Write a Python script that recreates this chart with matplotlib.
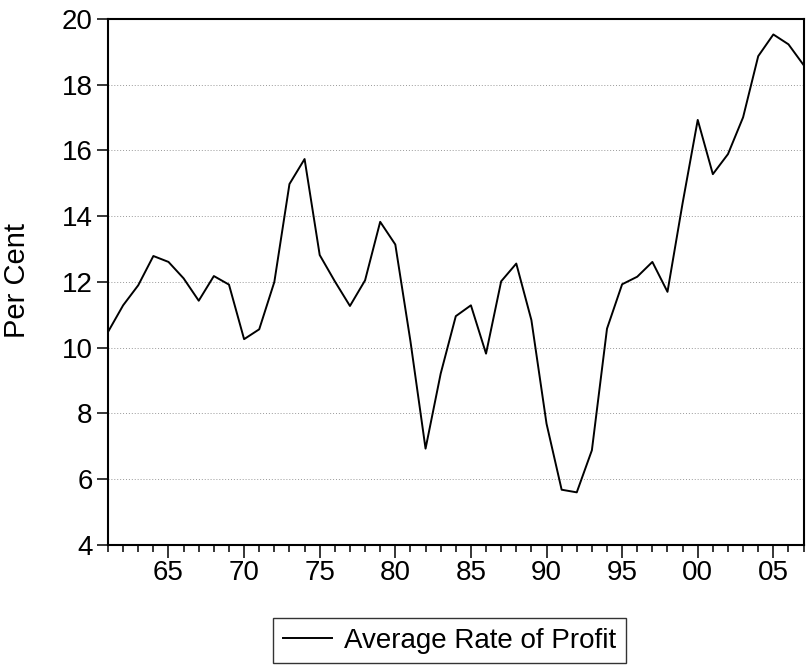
import numpy as np
import matplotlib
matplotlib.use("Agg")
import matplotlib.pyplot as plt
from matplotlib.ticker import MultipleLocator, FixedLocator

plt.rcParams['font.family'] = ['Liberation Sans', 'DejaVu Sans']

# ── data ──────────────────────────────────────────────────────
years = np.arange(1961, 2008)
profit_rate = [
    10.48, 11.29, 11.90, 12.79, 12.61, 12.11, 11.43, 12.18, 11.92, 10.26,
    10.56, 12.00, 14.98, 15.74, 12.82, 12.02, 11.27, 12.05, 13.83, 13.14,
    10.20, 6.93, 9.21, 10.96, 11.29, 9.82, 12.02, 12.56, 10.84, 7.69,
    5.68, 5.60, 6.88, 10.58, 11.93, 12.16, 12.61, 11.70, 14.40, 16.93,
    15.28, 15.89, 17.01, 18.87, 19.53, 19.23, 18.60,
]
major_years = [1965, 1970, 1975, 1980, 1985, 1990, 1995, 2000, 2005]
major_labels = ["65", "70", "75", "80", "85", "90", "95", "00", "05"]

# ── figure ────────────────────────────────────────────────────
fig = plt.figure(figsize=(8.06, 6.67), dpi=100)
ax = fig.add_axes([0.134, 0.183, 0.863, 0.7885])

ax.plot(years, profit_rate, color="black", linewidth=1.4,
        label="Average Rate of Profit")

ax.set_xlim(1961, 2007)
ax.set_ylim(4, 20)
ax.yaxis.set_major_locator(MultipleLocator(2))
ax.xaxis.set_major_locator(FixedLocator(major_years))
ax.set_xticklabels(major_labels)
ax.xaxis.set_minor_locator(MultipleLocator(1))

ax.grid(axis="y", linestyle=(0, (1, 2)), color="#999999", linewidth=0.7)
ax.set_axisbelow(True)

# tick lengths are in points (1 pt = 1.39 px here)
ax.tick_params(axis="both", which="major", direction="out",
               width=1.1, color="black")
ax.tick_params(axis="y", which="major", length=8, labelsize=20, pad=3)
ax.tick_params(axis="x", which="major", length=9.5, labelsize=20, pad=1)
ax.tick_params(axis="x", which="minor", length=4.8, width=1.1)
for sp in ax.spines.values():
    sp.set_linewidth(1.5)

fig.text(0.021, 0.579, "Per Cent", rotation=90, fontsize=21,
         ha="center", va="center")

ax.legend(loc="upper center", bbox_to_anchor=(0.491, -0.139),
          borderaxespad=0, frameon=True, fancybox=False, edgecolor="black",
          fontsize=20, handlelength=1.75, borderpad=0.35, handletextpad=0.45)
leg = ax.get_legend()
leg.get_frame().set_linewidth(1.0)

fig.savefig("out.png", dpi=100, facecolor="white")
